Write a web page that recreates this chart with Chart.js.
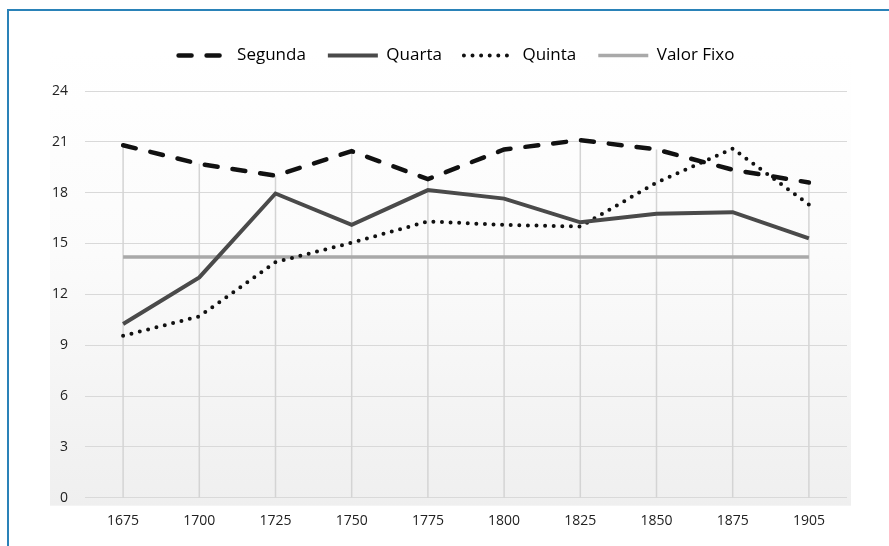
<!DOCTYPE html>
<html>
<head>
<meta charset="utf-8">
<script src="https://cdn.jsdelivr.net/npm/chart.js@4/dist/chart.umd.min.js"></script>
<style>
  html, body { margin: 0; padding: 0; background: #fff; overflow: hidden; }
  #frame {
    position: absolute; left: 7px; top: 9px; width: 950px; height: 600px;
    border-left: 2px solid #2a82b8; border-top: 2px solid #2a82b8;
  }
  #chart { position: absolute; left: 0; top: 0; }
</style>
</head>
<body>
<div id="frame"></div>
<canvas id="chart" width="889" height="546"></canvas>
<script>
const years = ["1675", "1700", "1725", "1750", "1775", "1800", "1825", "1850", "1875", "1905"];
const segunda = [20.8, 19.7, 19.0, 20.45, 18.8, 20.55, 21.1, 20.55, 19.35, 18.6];
const quarta = [10.25, 13.0, 17.95, 16.1, 18.15, 17.65, 16.25, 16.75, 16.85, 15.3];
const quinta = [9.55, 10.7, 13.9, 15.05, 16.3, 16.1, 16.0, 18.6, 20.6, 17.3];
const valorFixo = [14.2, 14.2, 14.2, 14.2, 14.2, 14.2, 14.2, 14.2, 14.2, 14.2];
const yTicks = [0, 3, 6, 9, 12, 15, 18, 21, 24];

const FONT = "'Open Sans', 'DejaVu Sans', sans-serif";

// soft grey fade behind the plot
const backdrop = {
  id: "backdrop",
  beforeDraw(chart) {
    const { ctx, chartArea: ca } = chart;
    const top = ca.top - 40, bottom = ca.bottom + 8;
    const g = ctx.createLinearGradient(0, top, 0, bottom);
    g.addColorStop(0, "#ffffff");
    g.addColorStop(0.45, "#fbfbfb");
    g.addColorStop(1, "#efefef");
    ctx.save();
    ctx.fillStyle = g;
    ctx.fillRect(ca.left - 35, top, ca.right - ca.left + 39, bottom - top);
    ctx.restore();
  }
};

// vertical drop lines from the highest value to the axis
const dropLines = {
  id: "dropLines",
  beforeDatasetsDraw(chart) {
    const { ctx, chartArea: ca, scales } = chart;
    const sets = chart.data.datasets;
    ctx.save();
    ctx.strokeStyle = "#d4d4d4";
    ctx.lineWidth = 1.5;
    years.forEach((y, i) => {
      const top = Math.max(...sets.map(d => d.data[i]));
      const x = scales.x.getPixelForValue(i);
      ctx.beginPath();
      ctx.moveTo(x, scales.y.getPixelForValue(top));
      ctx.lineTo(x, ca.bottom);
      ctx.stroke();
    });
    ctx.restore();
  }
};

// legend sits centred over the plot rather than the whole canvas
const legendShift = {
  id: "legendShift",
  afterLayout(chart) {
    if (chart.legend) {
      chart.legend.left += 18;
      chart.legend.right += 18;
    }
  }
};

new Chart(document.getElementById("chart"), {
  type: "line",
  data: {
    labels: years,
    datasets: [
      { label: "Segunda", data: segunda, borderColor: "#111111", backgroundColor: "#111111",
        borderWidth: 4.5, borderDash: [13, 15], borderCapStyle: "round" },
      { label: "Quarta", data: quarta, borderColor: "#4a4a4a", backgroundColor: "#4a4a4a",
        borderWidth: 4 },
      { label: "Quinta", data: quinta, borderColor: "#111111", backgroundColor: "#111111",
        borderWidth: 4, borderDash: [0, 8.6], borderCapStyle: "round" },
      { label: "Valor Fixo", data: valorFixo, borderColor: "#a9a9a9", backgroundColor: "#a9a9a9",
        borderWidth: 3.5 }
    ]
  },
  options: {
    responsive: false,
    animation: false,
    devicePixelRatio: 1,
    layout: { padding: { top: 25, left: 30, right: 42, bottom: 0 } },
    elements: { point: { radius: 0, hoverRadius: 0 }, line: { tension: 0 } },
    plugins: {
      tooltip: { enabled: false },
      legend: {
        position: "top",
        labels: {
          usePointStyle: true,
          pointStyle: "line",
          pointStyleWidth: 50,
          padding: 22,
          color: "#1a1a1a",
          font: { family: FONT, size: 17 },
          generateLabels(chart) {
            return chart.data.datasets.map((ds, i) => ({
              text: ds.label,
              datasetIndex: i,
              strokeStyle: ds.borderColor,
              fillStyle: ds.borderColor,
              lineWidth: ds.borderWidth,
              lineDash: ds.borderDash || [],
              lineCap: ds.borderCapStyle || "butt",
              pointStyle: "line",
              hidden: false
            }));
          }
        }
      },
      // empty spacer between legend and plot
      title: { display: true, text: " ", weight: 500, padding: 0,
               font: { family: FONT, size: 17, lineHeight: 1 } }
    },
    scales: {
      x: {
        offset: true,
        grid: { display: false },
        border: { display: false },
        ticks: { color: "#222", padding: 7, font: { family: FONT, size: 14 } },
        afterFit(s) { s.height = 48.3; }
      },
      y: {
        min: 0,
        max: 24,
        afterBuildTicks(s) { s.ticks = yTicks.map(v => ({ value: v })); },
        grid: { color: "#d9d9d9", lineWidth: 1, drawTicks: false },
        border: { display: false },
        ticks: { color: "#222", padding: 17, font: { family: FONT, size: 14 } },
        afterFit(s) { s.width = 55; }
      }
    }
  },
  plugins: [backdrop, dropLines, legendShift]
});
</script>
</body>
</html>
